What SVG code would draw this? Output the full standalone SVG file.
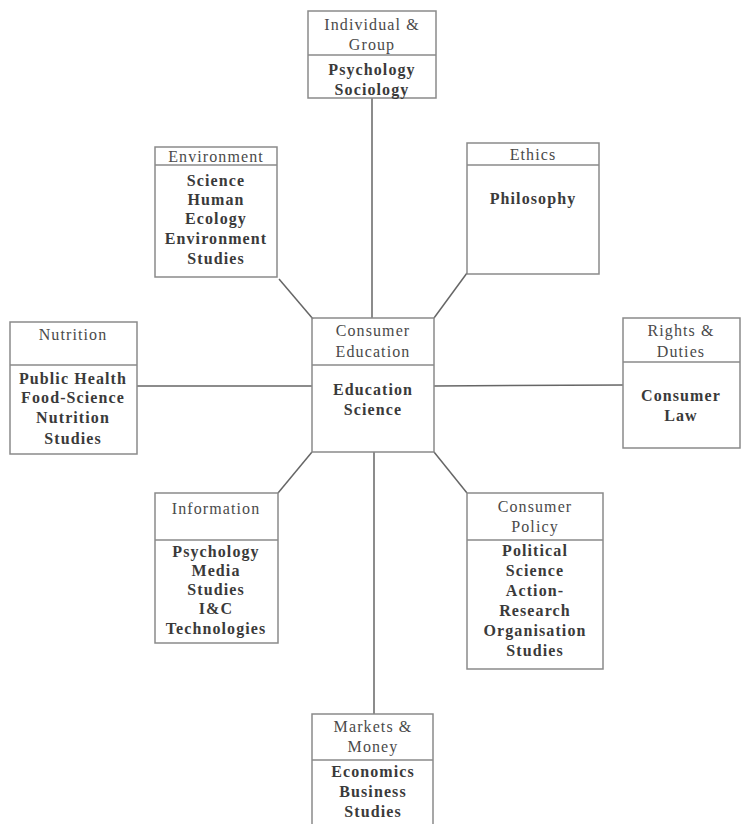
<svg xmlns="http://www.w3.org/2000/svg" width="741" height="824" viewBox="0 0 741 824">
<style>
.box{fill:none;stroke:#8a8a8a;stroke-width:1.5}
.div{stroke:#8a8a8a;stroke-width:1.5}
.con{stroke:#666;stroke-width:1.5;fill:none}
text{font-family:"Liberation Serif","Times New Roman",serif;fill:#4a4a4a;text-anchor:middle;font-size:16px;letter-spacing:1.1px}
.t{font-weight:normal}
.b{font-weight:bold;fill:#3a3a3a}
</style>
<rect width="741" height="824" fill="#fff"/>
<g id="connectors">
<line class="con" x1="372" y1="98" x2="372" y2="318"/>
<line class="con" x1="279" y1="279" x2="313" y2="319"/>
<line class="con" x1="467" y1="273" x2="434" y2="318"/>
<line class="con" x1="137" y1="386" x2="312" y2="386"/>
<line class="con" x1="434" y1="386" x2="623" y2="385"/>
<line class="con" x1="278" y1="493" x2="312" y2="452"/>
<line class="con" x1="467" y1="493" x2="434" y2="452"/>
<line class="con" x1="374" y1="452" x2="374" y2="714"/>
</g>
<g id="individual">
<rect class="box" x="308" y="11" width="128" height="87"/>
<line class="div" x1="308" y1="55" x2="436" y2="55"/>
<text class="t" x="372" y="30">Individual &amp;</text>
<text class="t" x="372" y="50">Group</text>
<text class="b" x="372" y="75">Psychology</text>
<text class="b" x="372" y="95">Sociology</text>
</g>
<g id="environment">
<rect class="box" x="155" y="147" width="122" height="130"/>
<line class="div" x1="155" y1="165" x2="277" y2="165"/>
<text class="t" x="216" y="162">Environment</text>
<text class="b" x="216" y="186">Science</text>
<text class="b" x="216" y="205">Human</text>
<text class="b" x="216" y="224">Ecology</text>
<text class="b" x="216" y="244">Environment</text>
<text class="b" x="216" y="264">Studies</text>
</g>
<g id="ethics">
<rect class="box" x="467" y="143" width="132" height="131"/>
<line class="div" x1="467" y1="165" x2="599" y2="165"/>
<text class="t" x="533" y="160">Ethics</text>
<text class="b" x="533" y="204">Philosophy</text>
</g>
<g id="nutrition">
<rect class="box" x="10" y="322" width="127" height="132"/>
<line class="div" x1="10" y1="365" x2="137" y2="365"/>
<text class="t" x="73" y="340">Nutrition</text>
<text class="b" x="73" y="384">Public Health</text>
<text class="b" x="73" y="403">Food-Science</text>
<text class="b" x="73" y="423">Nutrition</text>
<text class="b" x="73" y="444">Studies</text>
</g>
<g id="center">
<rect class="box" x="312" y="318" width="122" height="134"/>
<line class="div" x1="312" y1="365" x2="434" y2="365"/>
<text class="t" x="373" y="336">Consumer</text>
<text class="t" x="373" y="357">Education</text>
<text class="b" x="373" y="395">Education</text>
<text class="b" x="373" y="415">Science</text>
</g>
<g id="rights">
<rect class="box" x="623" y="318" width="117" height="130"/>
<line class="div" x1="623" y1="362" x2="740" y2="362"/>
<text class="t" x="681" y="336">Rights &amp;</text>
<text class="t" x="681" y="357">Duties</text>
<text class="b" x="681" y="401">Consumer</text>
<text class="b" x="681" y="421">Law</text>
</g>
<g id="information">
<rect class="box" x="155" y="493" width="123" height="150"/>
<line class="div" x1="155" y1="540" x2="278" y2="540"/>
<text class="t" x="216" y="514">Information</text>
<text class="b" x="216" y="557">Psychology</text>
<text class="b" x="216" y="576">Media</text>
<text class="b" x="216" y="595">Studies</text>
<text class="b" x="216" y="614">I&amp;C</text>
<text class="b" x="216" y="634">Technologies</text>
</g>
<g id="policy">
<rect class="box" x="467" y="493" width="136" height="176"/>
<line class="div" x1="467" y1="540" x2="603" y2="540"/>
<text class="t" x="535" y="512">Consumer</text>
<text class="t" x="535" y="532">Policy</text>
<text class="b" x="535" y="556">Political</text>
<text class="b" x="535" y="576">Science</text>
<text class="b" x="535" y="596">Action-</text>
<text class="b" x="535" y="616">Research</text>
<text class="b" x="535" y="636">Organisation</text>
<text class="b" x="535" y="656">Studies</text>
</g>
<g id="markets">
<path class="box" d="M312,824 V714 H433 V824"/>
<line class="div" x1="312" y1="760" x2="433" y2="760"/>
<text class="t" x="373" y="732">Markets &amp;</text>
<text class="t" x="373" y="752">Money</text>
<text class="b" x="373" y="777">Economics</text>
<text class="b" x="373" y="797">Business</text>
<text class="b" x="373" y="817">Studies</text>
</g>
</svg>
